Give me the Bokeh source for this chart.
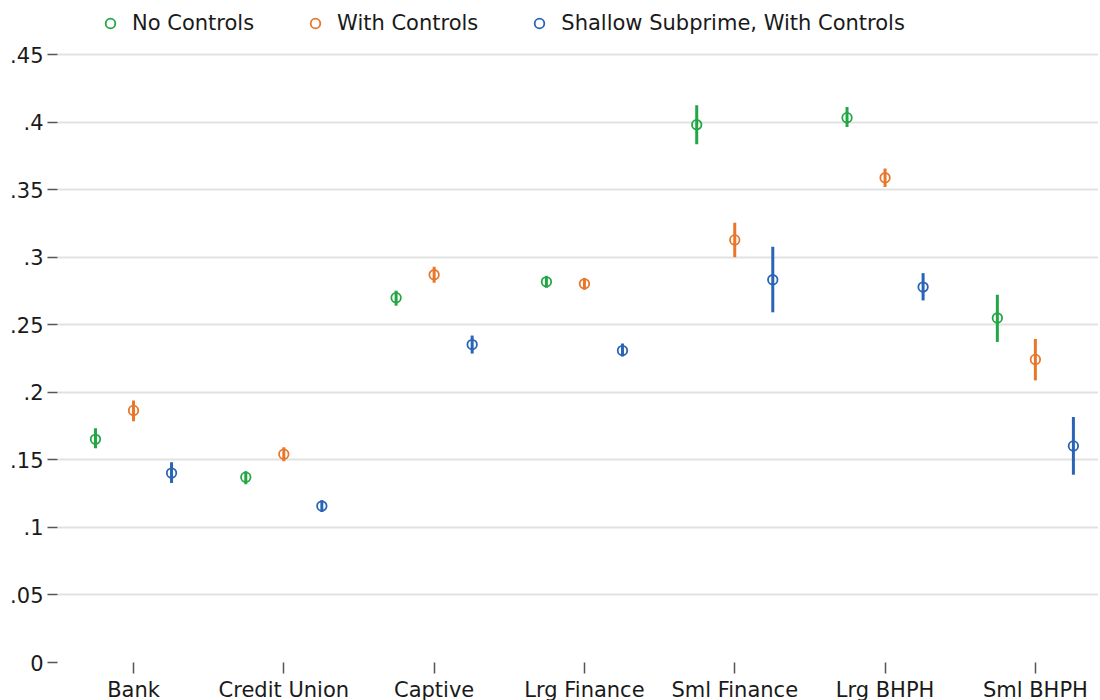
from bokeh.plotting import figure
from bokeh.models import FixedTicker, Legend, LegendItem, Range1d
from bokeh.embed import file_html
from bokeh.resources import INLINE

categories = ["Bank", "Credit Union", "Captive", "Lrg Finance", "Sml Finance", "Lrg BHPH", "Sml BHPH"]
series_names = ["No Controls", "With Controls", "Shallow Subprime, With Controls"]

no_controls_est = [0.1652, 0.1372, 0.2700, 0.2818, 0.3981, 0.4033, 0.2550]
no_controls_lo = [0.1586, 0.1320, 0.2641, 0.2774, 0.3836, 0.3964, 0.2373]
no_controls_hi = [0.1734, 0.1416, 0.2752, 0.2862, 0.4124, 0.4111, 0.2722]

with_controls_est = [0.1866, 0.1542, 0.2870, 0.2803, 0.3128, 0.3588, 0.2243]
with_controls_lo = [0.1785, 0.1490, 0.2811, 0.2759, 0.3000, 0.3519, 0.2088]
with_controls_hi = [0.1940, 0.1593, 0.2929, 0.2847, 0.3255, 0.3656, 0.2395]

shallow_est = [0.1402, 0.1158, 0.2353, 0.2309, 0.2833, 0.2779, 0.1603]
shallow_lo = [0.1328, 0.1114, 0.2287, 0.2265, 0.2592, 0.2680, 0.1390]
shallow_hi = [0.1483, 0.1202, 0.2420, 0.2361, 0.3078, 0.2882, 0.1817]

y_ticks = [0, 0.05, 0.1, 0.15, 0.2, 0.25, 0.3, 0.35, 0.4, 0.45]
y_tick_labels = ["0", ".05", ".1", ".15", ".2", ".25", ".3", ".35", ".4", ".45"]

colors = ["#22a744", "#e8762b", "#2a64b5"]
offsets = [-0.253, 0.0, 0.253]
FONT = "DejaVu Sans"
FS = "21px"

FRAME_H = 662
p = figure(frame_width=1041, frame_height=FRAME_H, output_backend="svg", toolbar_location=None,
           x_range=Range1d(-0.5057, 6.42), y_range=Range1d(0, 0.49),
           min_border_left=57, min_border_right=0, min_border_top=0, min_border_bottom=0)
p.outline_line_color = None
p.background_fill_color = "white"
p.border_fill_color = "white"

series = [
    (no_controls_est, no_controls_lo, no_controls_hi),
    (with_controls_est, with_controls_lo, with_controls_hi),
    (shallow_est, shallow_lo, shallow_hi),
]

items = []
for k, (est, lo, hi) in enumerate(series):
    xs = [i + offsets[k] for i in range(len(categories))]
    p.segment(x0=xs, x1=xs, y0=lo, y1=hi, line_color=colors[k], line_width=3)
    r = p.scatter(x=xs, y=est, size=9.5, marker="circle", fill_color="white", fill_alpha=0.0,
                  line_color=colors[k], line_width=1.8)
    items.append(LegendItem(label=series_names[k], renderers=[r]))

legend = Legend(items=items, orientation="horizontal", location=(41, FRAME_H - 35),
                label_text_font=FONT, label_text_font_size=FS, label_text_color="#1a1a1a",
                glyph_width=24, glyph_height=24, label_standoff=10, spacing=49,
                padding=2, margin=0, border_line_color=None, background_fill_alpha=0)
p.add_layout(legend)

p.xaxis.ticker = FixedTicker(ticks=list(range(len(categories))))
p.xaxis.major_label_overrides = {i: c for i, c in enumerate(categories)}
p.yaxis.ticker = FixedTicker(ticks=y_ticks)
p.yaxis.major_label_overrides = {t: l for t, l in zip(y_ticks, y_tick_labels)}

for ax in (p.xaxis, p.yaxis):
    ax.axis_line_color = None
    ax.minor_tick_line_color = None
    ax.major_tick_in = 0
    ax.major_tick_line_color = "#555555"
    ax.major_tick_line_width = 1.5
    ax.major_label_text_font = FONT
    ax.major_label_text_font_size = FS
    ax.major_label_text_color = "#1a1a1a"
p.yaxis.major_tick_out = 10
p.yaxis.major_label_standoff = 4
p.xaxis.major_tick_out = 11
p.xaxis.major_label_standoff = 4

p.xgrid.grid_line_color = None
p.ygrid.grid_line_color = "#e2e2e2"
p.ygrid.grid_line_width = 2

open("out.html", "w").write(file_html(p, INLINE))
